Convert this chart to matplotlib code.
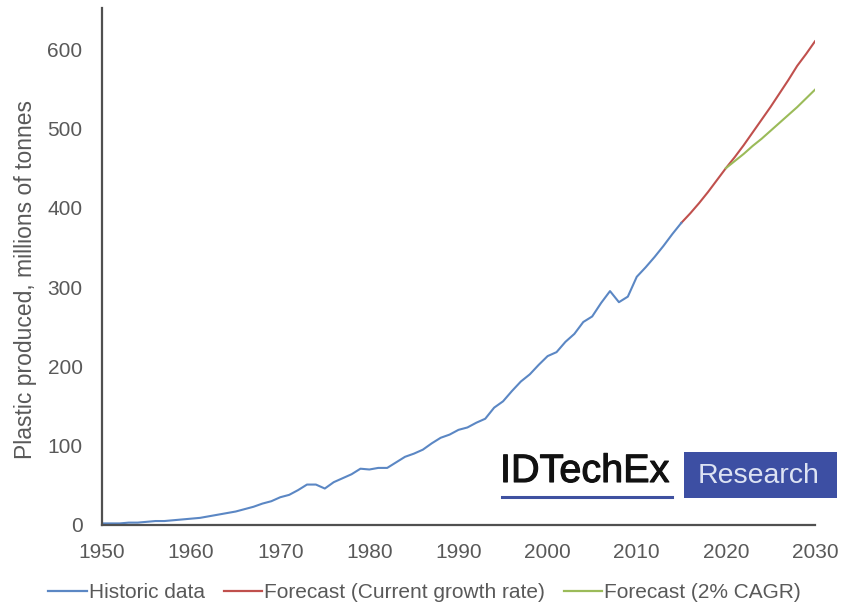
import matplotlib
matplotlib.use("Agg")
import matplotlib.pyplot as plt
import matplotlib.patheffects as pe
from matplotlib.patches import Rectangle
from matplotlib.lines import Line2D

plt.rcParams["font.family"] = ["Liberation Sans", "DejaVu Sans"]

# global plastic production, millions of tonnes
hist_years = list(range(1950, 2016))
hist_vals = [2, 2, 2, 3, 3, 4, 5, 5, 6, 7,
             8, 9, 11, 13, 15, 17, 20, 23, 27, 30,
             35, 38, 44, 51, 51, 46, 54, 59, 64, 71,
             70, 72, 72, 79, 86, 90, 95, 103, 110, 114,
             120, 123, 129, 134, 148, 156, 169, 181, 190, 202,
             213, 218, 231, 241, 256, 263, 280, 295, 281, 288,
             313, 325, 338, 352, 367, 381]

cur_years = list(range(2015, 2031))
cur_vals = [381, 393, 406, 420, 435, 450, 464, 479, 495, 511,
            527, 544, 561, 579, 594, 610]

cagr_years = list(range(2020, 2031))
cagr_vals = [450, 459, 468, 478, 487, 497, 507, 517, 527, 538, 549]

labels = ["Historic data", "Forecast (Current growth rate)", "Forecast (2% CAGR)"]
colors = ["#5b87c4", "#c0504d", "#9bbb59"]

fig = plt.figure(figsize=(8.41, 6.06), dpi=100)
ax = fig.add_axes([102 / 841, 1 - 525 / 606, (815 - 102) / 841, (525 - 8) / 606])

ax.plot(cur_years, cur_vals, color=colors[1], lw=1.5, label=labels[1])
ax.plot(cagr_years, cagr_vals, color=colors[2], lw=1.5, label=labels[2])
ax.plot(hist_years, hist_vals, color=colors[0], lw=1.5, label=labels[0])

ax.set_xlim(1950, 2030)
ax.set_ylim(0, 652)
ax.set_xticks(range(1950, 2031, 10))
ax.set_yticks(range(0, 601, 100))
ax.tick_params(length=0, labelsize=15, labelcolor="#595959")
ax.tick_params(axis="y", pad=14)
ax.tick_params(axis="x", pad=13)
for s in ["top", "right"]:
    ax.spines[s].set_visible(False)
for s in ["left", "bottom"]:
    ax.spines[s].set_color("#505050")
    ax.spines[s].set_linewidth(1.6)
ax.set_ylabel("Plastic produced, millions of tonnes", fontsize=16.5,
              color="#595959")
ax.yaxis.set_label_coords(-0.091, 0.474)

handles = [Line2D([], [], color=c, lw=1.6) for c in colors]
fig.legend(handles, labels, loc="lower center", bbox_to_anchor=(0.505, -0.025),
           ncol=3, frameon=False, fontsize=15, labelcolor="#595959",
           handlelength=1.85, handletextpad=0.1, columnspacing=0.9)

# logo watermark
fig.text(500 / 841, 1 - 482 / 606, "IDTechEx", fontsize=28.5, color="#111111",
         ha="left", va="baseline",
         path_effects=[pe.withStroke(linewidth=0.8, foreground="#111111")])
fig.add_artist(Line2D([502 / 841, 672 / 841], [1 - 497 / 606, 1 - 497 / 606],
                      color="#3f51a0", lw=2.2, transform=fig.transFigure))
fig.add_artist(Rectangle((684 / 841, 1 - 498 / 606), (837 - 684) / 841,
                         (498 - 452) / 606, transform=fig.transFigure,
                         facecolor="#3d4fa3", edgecolor="none"))
fig.text(759 / 841, 1 - 483 / 606, "Research", fontsize=20.5, color="#dde3f3",
         ha="center", va="baseline")

fig.savefig("out.png", dpi=100)
